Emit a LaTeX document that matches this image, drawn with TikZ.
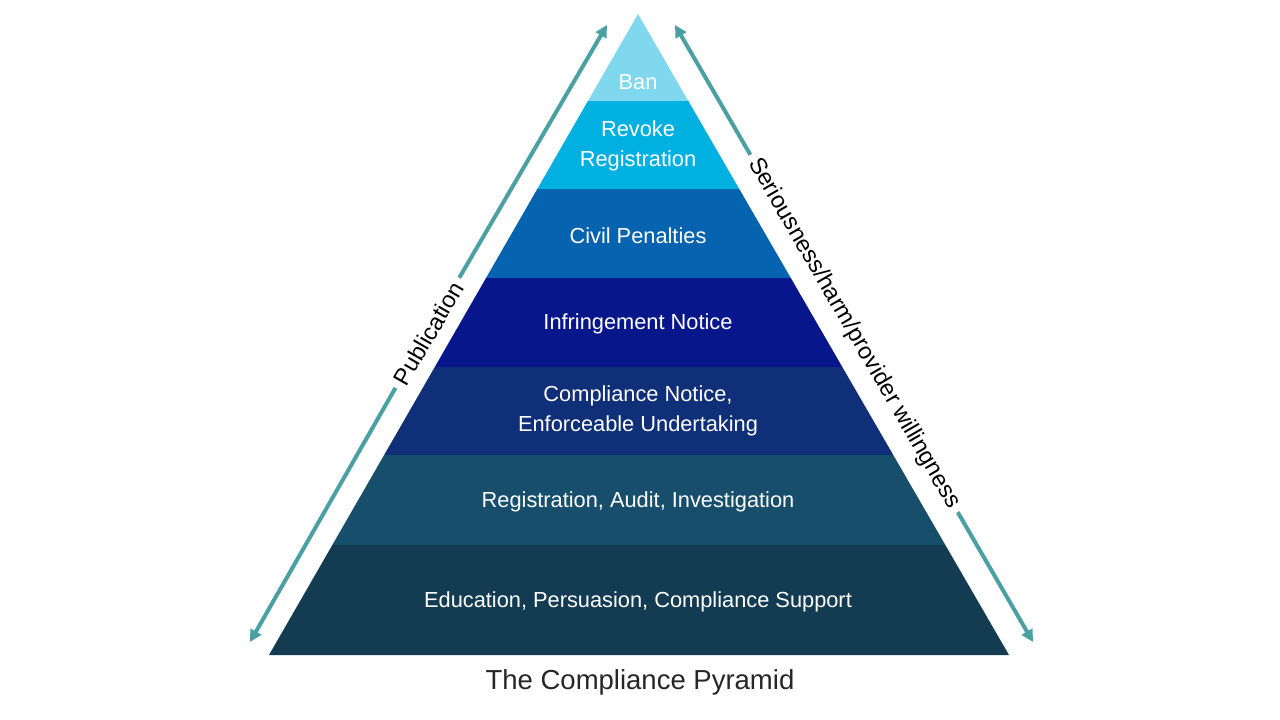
\documentclass[tikz,border=0pt]{standalone}
\usepackage{fontspec}
\setmainfont{Liberation Sans}
\usetikzlibrary{arrows.meta}
\definecolor{cA}{HTML}{80D8EF}
\definecolor{cB}{HTML}{00B0E0}
\definecolor{cC}{HTML}{0563B0}
\definecolor{cD}{HTML}{07168A}
\definecolor{cE}{HTML}{0F2F78}
\definecolor{cF}{HTML}{174E6C}
\definecolor{cG}{HTML}{133C53}
\definecolor{teal}{HTML}{4AA0A3}
\tikzset{lbl/.style={text=white,font=\fontsize{21.8}{30}\selectfont,align=center},
arr/.style={draw=teal,line width=4pt,-{Triangle[length=12pt,width=12pt]}},
side/.style={fill=white,font=\fontsize{23.5}{26}\selectfont,sloped,inner sep=6pt}}
\newcommand{\xl}[1]{638-(#1-14)*0.57566}
\newcommand{\xr}[1]{638+(#1-14)*0.57878}
\newcommand{\band}[3]{\fill[#1] ({\xl{#2}},#2) -- ({\xr{#2}},#2) -- ({\xr{#3}},#3) -- ({\xl{#3}},#3) -- cycle;}
\begin{document}
\begin{tikzpicture}[x=1pt,y=-1pt]
\useasboundingbox (0,0) rectangle (1280,720);
\fill[cA] (638,14) -- ({\xr{101}},101) -- ({\xl{101}},101) -- cycle;
\band{cB}{101}{189}
\band{cC}{189}{278}
\band{cD}{278}{367}
\band{cE}{367}{455}
\band{cF}{455}{545}
\band{cG}{545}{655}
\node[lbl] (n1) at (638,82) {Ban};
\node[lbl] (n2) at (638,146) {Revoke\\Registration};
\node[lbl] (n3) at (638,236) {Civil Penalties};
\node[lbl] (n4) at (638,324) {Infringement Notice};
\node[lbl] (n5) at (638,411) {Compliance Notice,\\Enforceable Undertaking};
\node[lbl] (n6) at (638,502) {Registration, Audit, Investigation};
\node[lbl] (n7) at (638,602) {Education, Persuasion, Compliance Support};
\node[font=\fontsize{27.5}{30}\selectfont,text=black!85] (t) at (640,682) {The Compliance Pyramid};
\coordinate (la) at (420,345);
\coordinate (ra) at (855,335);
\draw[arr] (la) -- (607,25);
\draw[arr] (la) -- (250,642);
\draw[arr] (ra) -- (675,25);
\draw[arr] (ra) -- (1033,642);
\path (250,642) -- node[side,pos=0.5] (pl) {Publication} (607,25);
\path (675,25) -- node[side,pos=0.5] (pr) {Seriousness/harm/provider willingness} (1033,642);
\end{tikzpicture}
\end{document}
